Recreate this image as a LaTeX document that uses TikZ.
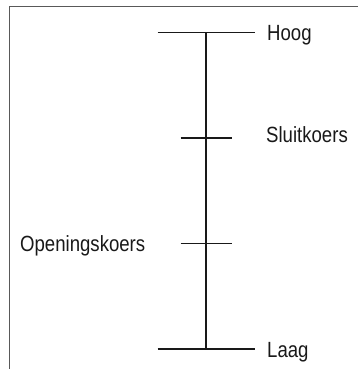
\documentclass[tikz,border=0pt]{standalone}
\usepackage{fontspec}
\setmainfont{Liberation Sans}[FakeStretch=0.845]
\begin{document}
\begin{tikzpicture}[x=1pt,y=-1pt,
  bar/.style={line width=1.3pt,draw=black!90},
  lbl/.style={anchor=base west,inner sep=0pt,text=black!90,font=\fontsize{22}{26}\selectfont},
  frame/.style={line width=1.8pt,draw=black!65}]
\useasboundingbox (0,0) rectangle (358,369);
\draw[frame] (9.5,369) -- (9.5,6.5) -- (358,6.5);
% coordinates
\coordinate (hi) at (206,32.5);
\coordinate (lo) at (206,349);
\coordinate (hiL) at (157.5,32.5);
\coordinate (hiR) at (255,32.5);
\coordinate (loL) at (157.5,349);
\coordinate (loR) at (255,349);
\coordinate (clL) at (180.5,138);
\coordinate (clR) at (232,138);
\coordinate (opL) at (180.5,243.5);
\coordinate (opR) at (232,243.5);
\draw[bar] (hi) -- (lo);
\draw[bar] (hiL) -- (hiR);
\draw[bar] (loL) -- (loR);
\draw[bar] (clL) -- (clR);
\draw[bar] (opL) -- (opR);
\node[lbl] (hoog) at (267,41) {Hoog};
\node[lbl] (laag) at (267,357) {Laag};
\node[lbl] (sluit) at (266,142.5) {Sluitkoers};
\node[lbl] (open) at (20,251) {Openingskoers};
\end{tikzpicture}
\end{document}
